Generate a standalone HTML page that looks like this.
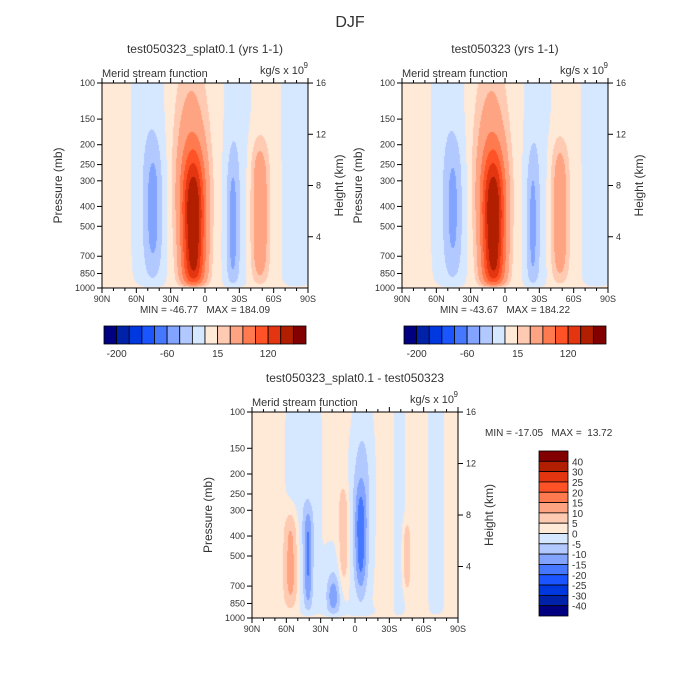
<!DOCTYPE html>
<html><head><meta charset="utf-8">
<style>
html,body{margin:0;padding:0;background:#fff;}
#root{position:relative;width:700px;height:700px;overflow:hidden;font-family:"Liberation Sans",sans-serif;}
canvas{position:absolute;}
svg{position:absolute;left:0;top:0;}
text{white-space:pre;}
</style></head><body>
<div id="root">
<canvas id="c1" width="206" height="205" style="left:102px;top:83px"></canvas>
<canvas id="c2" width="206" height="205" style="left:402px;top:83px"></canvas>
<canvas id="c3" width="206" height="206" style="left:252px;top:412px"></canvas>
<svg id="s" width="700" height="700"></svg>
</div>
<script>
// ---- data ----
const palette = ["#000080","#0022a8","#0038e0","#1a55ff","#4677ff","#82a4ff","#b2c9ff","#d6e8ff","#ffe9d7","#ffcab2","#ffa482","#ff7a4e","#ff5226","#e33510","#b21e00","#820000"];
const levelsAbs = [-200,-150,-100,-80,-60,-40,-20,0,15,30,60,90,120,150,200];
const levelsDiff = [-40,-30,-25,-20,-15,-10,-5,0,5,10,15,20,25,30,40];
const absTickLabels = ["-200","-60","15","120"];
const absTickIdx = [0,4,8,12];
const diffLabels = ["40","30","25","20","15","10","5","0","-5","-10","-15","-20","-25","-30","-40"];
const latTicks = ["90N","60N","30N","0","30S","60S","90S"];
const presTicks = [100,150,200,250,300,400,500,700,850,1000];
const heightTicks = [16,12,8,4];
// blobs: [lat, yfrac, sigmaLat, sigmaY, amplitude, verticalExponent]
const blobsCtl = [[10,0.74,7,0.3,150,3],[12,0.42,10,0.34,50,2],[45,0.62,6,0.28,-40,3],[49,0.3,9,0.7,-14,4],
 [-24,0.7,4,0.3,-40,3],[-28,0.4,7,0.7,-14,4],[-48,0.64,5.5,0.3,48,4],[-80,0.5,8,3,-12,2]];
const blobsTst = [[10,0.74,7,0.3,150,3],[12,0.42,10,0.34,50,2],[45,0.62,6,0.28,-37,3],[49,0.3,9,0.7,-14,4],
 [-24,0.7,4,0.3,-38,3],[-28,0.4,7,0.7,-14,4],[-48,0.64,5.5,0.3,44,4],[-80,0.5,8,3,-12,2]];
const blobsDiff = [[45,0.2,12,0.5,-5,2],[56,0.72,4.5,0.2,12,4],[41,0.72,2.5,0.2,-10,4],[41,0.72,5,0.25,-5,4],
 [19,0.9,4,0.07,-11,2],[19,0.85,6,0.15,-5,2],[10,0.6,3,0.2,9,4],[-5,0.62,3.5,0.2,-12,3],[-5,0.55,7,0.35,-7,3],
 [-7,0.2,7,0.4,-4,2],[-39,0.5,4,3,-4,2],[-71,0.5,6,3,-4,2],[-45,0.7,2.5,0.14,8,4],[5,1.0,25,0.04,-4,2]];
const bgCtl = 3, bgDiff = 2;

function field(blobs,bg,lat,y){
  let v=bg;
  for(const b of blobs){
    const dx=(lat-b[0])/b[2], dy=Math.abs(y-b[1])/b[3];
    v+=b[4]*Math.exp(-0.5*dx*dx-0.5*Math.pow(dy,b[5]));
  }
  return bg+(v-bg)*(1-Math.exp(-(1-y)/0.025));
}
function hex(c){return [parseInt(c.substr(1,2),16),parseInt(c.substr(3,2),16),parseInt(c.substr(5,2),16)];}
function drawField(id,blobs,bg,levels){
  const cv=document.getElementById(id),ctx=cv.getContext('2d');
  const W=cv.width,H=cv.height,img=ctx.createImageData(W,H);
  const cols=palette.map(hex);
  for(let j=0;j<H;j++)for(let i=0;i<W;i++){
    const lat=90-180*(i+0.5)/W, y=(j+0.5)/H;
    const v=field(blobs,bg,lat,y);
    let k=0; while(k<levels.length&&v>=levels[k])k++;
    const c=cols[k],p=(j*W+i)*4;
    img.data[p]=c[0];img.data[p+1]=c[1];img.data[p+2]=c[2];img.data[p+3]=255;
  }
  ctx.putImageData(img,0,0);
}
drawField('c1',blobsCtl,bgCtl,levelsAbs);
drawField('c2',blobsTst,bgCtl,levelsAbs);
drawField('c3',blobsDiff,bgDiff,levelsDiff);

// ---- annotations ----
const NS="http://www.w3.org/2000/svg", svg=document.getElementById('s');
function el(tag,attrs,parent){const e=document.createElementNS(NS,tag);for(const k in attrs)e.setAttribute(k,attrs[k]);(parent||svg).appendChild(e);return e;}
function txt(x,y,s,size,anchor,name,extra){
  const t=el('text',Object.assign({x:x,y:y,'font-size':size,'text-anchor':anchor||'middle',fill:'#333','font-family':'Liberation Sans, sans-serif'},extra||{}));
  t.textContent=s;
  
  
  return t;
}
txt(350,27,"DJF",16,'middle','figure-title');

function panel(x0,y0,W,H,title,prefix,minmax,mmx,mmy,anchor){
  const g=el('g',{});
  
  
  const f=el('rect',{x:x0,y:y0,width:W,height:H,fill:'none',stroke:'#000','stroke-width':1},g);
  
  
  txt(x0+W/2,y0-30,title,12,'middle',prefix+'-title');
  txt(x0,y0-6,"Merid stream function",11,'start',prefix+'-subtitle');
  txt(x0+W-4,y0-9,"kg/s x 10",11,'end',prefix+'-units');
  txt(x0+W,y0-15,"9",8,'end',prefix+'-units-exponent');
  for(let d=0;d<=18;d++){
    const x=x0+W*d/18, major=d%3===0;
    el('line',{x1:x,y1:y0+H,x2:x,y2:y0+H+(major?5:3),stroke:'#000'},g);
    el('line',{x1:x,y1:y0,x2:x,y2:y0-(major?5:3),stroke:'#000'},g);
  }
  latTicks.forEach((s,i)=>txt(x0+W*i/6,y0+H+14,s,9,'middle',prefix+'-lat-label'));
  presTicks.forEach(p=>{
    const y=y0+H*Math.log10(p/100);
    el('line',{x1:x0-5,y1:y,x2:x0,y2:y,stroke:'#000'},g);
    txt(x0-7,y+3,String(p),9,'end',prefix+'-pressure-label');
  });
  txt(0,0,"Pressure (mb)",12,'middle',prefix+'-y-axis-title',{transform:`translate(${x0-40},${y0+H/2}) rotate(-90)`});
  heightTicks.forEach(h=>{
    const p=1000*Math.exp(-h/6.95);
    const y=y0+H*Math.log10(p/100);
    el('line',{x1:x0+W,y1:y,x2:x0+W+5,y2:y,stroke:'#000'},g);
    txt(x0+W+8,y+3,String(h),9,'start',prefix+'-height-label');
  });
  txt(0,0,"Height (km)",12,'middle',prefix+'-y2-axis-title',{transform:`translate(${x0+W+35},${y0+H/2}) rotate(-90)`});
  txt(mmx,mmy,minmax,10,anchor,prefix+'-min-max');
}
panel(102,83,206,205,"test050323_splat0.1 (yrs 1-1)","control","MIN = -46.77   MAX = 184.09",205,313,'middle');
panel(402,83,206,205,"test050323 (yrs 1-1)","test","MIN = -43.67   MAX = 184.22",505,313,'middle');
panel(252,412,206,206,"test050323_splat0.1 - test050323","diff","MIN = -17.05   MAX =  13.72",485,436,'start');

function hbar(x0,y0,W,H,prefix){
  const bw=W/16;
  palette.forEach((c,i)=>{
    const r=el('rect',{x:x0+i*bw,y:y0,width:bw,height:H,fill:c,stroke:'#000','stroke-width':0.8});
    
    
  });
  absTickIdx.forEach((k,i)=>txt(x0+(k+1)*bw,y0+H+13,absTickLabels[i],10,'middle',prefix+'-colorbar-label'));
}
hbar(104,326,202,18,'control');
hbar(404,326,202,18,'test');
(function(){
  const x0=539,y0=451,W=29,H=165,bh=H/16;
  palette.slice().reverse().forEach((c,i)=>{
    const r=el('rect',{x:x0,y:y0+i*bh,width:W,height:bh,fill:c,stroke:'#000','stroke-width':0.8});
    
    
  });
  diffLabels.forEach((s,i)=>txt(x0+W+4,y0+(i+1)*bh+4,s,10,'start','diff-colorbar-label'));
})();
</script>
</body></html>
